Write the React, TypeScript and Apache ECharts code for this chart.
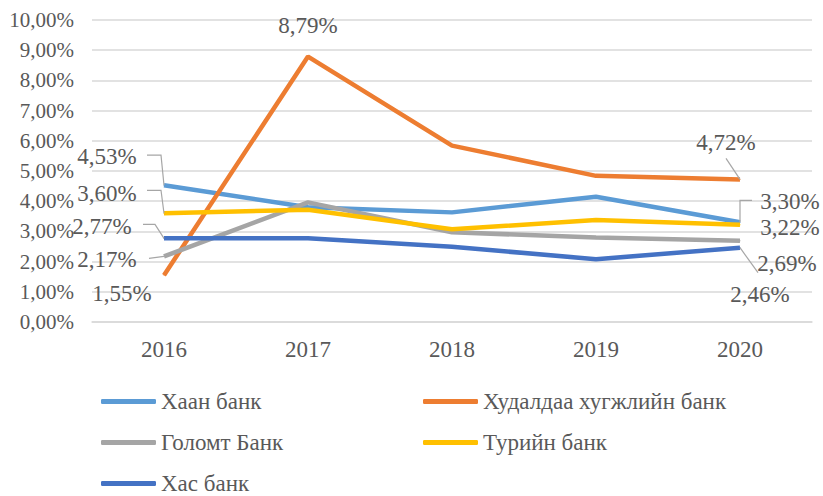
import React, { useEffect, useRef } from "react";
import * as echarts from "echarts";

const years = ["2016", "2017", "2018", "2019", "2020"];
const seriesNames = ["Хаан банк", "Худалдаа хугжлийн банк", "Голомт Банк", "Турийн банк", "Хас банк"];
const khaan = [4.53, 3.8, 3.63, 4.15, 3.3];
const tdb = [1.55, 8.79, 5.84, 4.84, 4.72];
const golomt = [2.17, 3.96, 2.97, 2.8, 2.69];
const turiin = [3.6, 3.72, 3.07, 3.38, 3.22];
const khas = [2.77, 2.77, 2.49, 2.08, 2.46];
const colors = ["#5B9BD5", "#ED7D31", "#A5A5A5", "#FFC000", "#4472C4"];

const FONT = "Liberation Serif, Times New Roman, serif";
const TXT = "#595959";

// label placement: [seriesIdx, dataIdx] -> offset and leader (relative to point)
type Lab = { s: number; i: number; off: [number, number]; leader?: number[][] };
const labels: Lab[] = [
  { s: 0, i: 0, off: [-57, -29], leader: [[-17, -30], [-3, -30], [0, 0]] },
  { s: 3, i: 0, off: [-57, -20], leader: [[-17, -23], [-3, -23], [0, 0]] },
  { s: 4, i: 0, off: [-62, -12], leader: [[-21, -14], [-9, -14], [0, 0]] },
  { s: 2, i: 0, off: [-57, 3], leader: [[-15, 2], [0, 0]] },
  { s: 1, i: 0, off: [-42, 18] },
  { s: 1, i: 1, off: [0, -31] },
  { s: 1, i: 4, off: [-14, -37], leader: [[-14, -21], [0, 0]] },
  { s: 0, i: 4, off: [50, -21], leader: [[12, -22], [0, -22], [0, 0]] },
  { s: 3, i: 4, off: [50, 3] },
  { s: 2, i: 4, off: [47, 23] },
  { s: 4, i: 4, off: [20, 47], leader: [[18, 25], [0, 0]] },
];

const fmt = (v: number) => v.toFixed(2).replace(".", ",") + "%";

export default function App() {
  const ref = useRef<HTMLDivElement>(null);
  useEffect(() => {
    if (!ref.current) return;
    const chart = echarts.init(ref.current, null, { renderer: "svg" });
    const all = [khaan, tdb, golomt, turiin, khas];
    const series = all.map((vals, s) => ({
      name: seriesNames[s],
      type: "line",
      data: vals.map((v, i) => {
        const l = labels.find((x) => x.s === s && x.i === i);
        return {
          value: v,
          label: l
            ? { show: true, position: "inside", offset: l.off }
            : { show: false },
        };
      }),
      symbol: "circle",
      symbolSize: 1,
      showSymbol: true,
      itemStyle: { color: colors[s] },
      lineStyle: { color: colors[s], width: 4.5 },
      label: {
        formatter: (p: any) => fmt(p.value),
        fontSize: 23,
        fontFamily: FONT,
        color: TXT,
        align: "center",
        verticalAlign: "middle",
      },
      emphasis: { disabled: true },
      z: 2 + s,
    }));
    const legendCommon = {
      orient: "vertical",
      itemWidth: 55,
      itemHeight: 5,
      itemGap: 18,
      icon: "roundRect",
      padding: 0,
      height: 130,
      textStyle: { fontSize: 23, fontFamily: FONT, color: TXT, lineHeight: 23 },
    };
    chart.setOption({
      animation: false,
      color: colors,
      textStyle: { fontFamily: FONT },
      grid: { left: 92, right: 11, top: 20, bottom: 174, outerBoundsMode: "none", containLabel: false },
      xAxis: {
        type: "category",
        data: years,
        boundaryGap: true,
        axisLine: { show: true, lineStyle: { color: "#D9D9D9", width: 1.5 } },
        axisTick: { show: false },
        axisLabel: { fontSize: 23, fontFamily: FONT, color: TXT, margin: 16 },
      },
      yAxis: {
        type: "value",
        min: 0,
        max: 10,
        interval: 1,
        axisLine: { show: false },
        axisTick: { show: false },
        splitLine: { lineStyle: { color: "#D9D9D9", width: 1.5 } },
        axisLabel: { fontSize: 21, fontFamily: FONT, color: TXT, margin: 18, formatter: (v: number) => fmt(v) },
      },
      legend: [
        { ...legendCommon, data: [seriesNames[0], seriesNames[2], seriesNames[4]], left: 101, top: 390 },
        { ...legendCommon, data: [seriesNames[1], seriesNames[3]], left: 423, top: 390 },
      ],
      series,
    });
    const graphics: any[] = [];
    labels.forEach((l) => {
      if (!l.leader) return;
      const p = chart.convertToPixel({ xAxisIndex: 0, yAxisIndex: 0 }, [l.i, all[l.s][l.i]]) as number[];
      graphics.push({
        type: "polyline",
        shape: { points: l.leader.map((q) => [p[0] + q[0], p[1] + q[1]]) },
        style: { stroke: "#A6A6A6", lineWidth: 1.2, fill: null },
        z: 100,
        silent: true,
      });
    });
    chart.setOption({ graphic: graphics });
    return () => chart.dispose();
  }, []);
  return <div ref={ref} style={{ position: "fixed", left: 0, top: 0, width: 823, height: 496, background: "#fff" }} />;
}
